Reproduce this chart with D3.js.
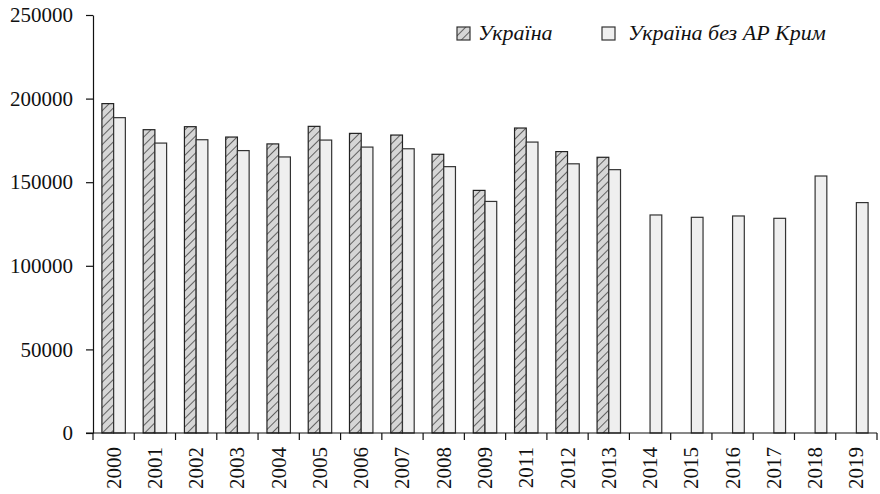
<!DOCTYPE html>
<html>
<head>
<meta charset="utf-8">
<script src="https://cdn.jsdelivr.net/npm/d3@7"></script>
<style>
  html, body { margin: 0; padding: 0; background: #fff; }
  svg { display: block; }
</style>
</head>
<body>
<svg id="chart" width="880" height="494" font-family="Liberation Serif"></svg>
<script>
// Years on the category axis (2010 is absent in the source table)
const years = ["2000","2001","2002","2003","2004","2005","2006","2007","2008","2009",
               "2011","2012","2013","2014","2015","2016","2017","2018","2019"];

// Україна — whole country (no data from 2014 on)
const ukraine = [197000,181400,183200,177000,172900,183400,179200,178200,166700,145100,
                 182400,168300,164900,null,null,null,null,null,null];

// Україна без АР Крим
const ukraineNoCrimea = [188600,173400,175400,168900,165100,175200,171000,170000,159300,138500,
                         174000,161000,157500,130400,129000,129800,128400,153700,137800];

const yTicks = [0,50000,100000,150000,200000,250000];

const seriesNames = ["Україна", "Україна без АР Крим"];

const FONT = "Liberation Serif";
const svg = d3.select("#chart");
const plotLeft = 93, plotRight = 877, plotTop = 15, plotBottom = 433;

const defs = svg.append("defs");
const hatch = defs.append("pattern")
  .attr("id", "hatch")
  .attr("patternUnits", "userSpaceOnUse")
  .attr("width", 6).attr("height", 6)
  .attr("patternTransform", "rotate(45)");
hatch.append("rect").attr("width", 6).attr("height", 6).attr("fill", "#d6d6d6");
hatch.append("line").attr("x1", 0).attr("y1", 0).attr("x2", 0).attr("y2", 6)
  .attr("stroke", "#111").attr("stroke-width", 1.2);

const x = d3.scaleBand().domain(years).range([plotLeft, plotRight]).padding(0);
const x1 = d3.scaleBand().domain(["a","b"]).range([0, x.bandwidth()])
  .paddingInner(0).paddingOuter(0.76);
const y = d3.scaleLinear().domain([0, 250000]).range([plotBottom, plotTop]);

// Bars
const g = svg.append("g");
years.forEach((yr, i) => {
  if (ukraine[i] != null) {
    g.append("rect")
      .attr("x", x(yr) + x1("a"))
      .attr("y", y(ukraine[i]))
      .attr("width", x1.bandwidth())
      .attr("height", y(0) - y(ukraine[i]))
      .attr("fill", "url(#hatch)")
      .attr("stroke", "#222").attr("stroke-width", 1.2);
  }
  if (ukraineNoCrimea[i] != null) {
    g.append("rect")
      .attr("x", x(yr) + x1("b"))
      .attr("y", y(ukraineNoCrimea[i]))
      .attr("width", x1.bandwidth())
      .attr("height", y(0) - y(ukraineNoCrimea[i]))
      .attr("fill", "#efefef")
      .attr("stroke", "#333").attr("stroke-width", 1.2);
  }
});

// Y axis
const yAxis = svg.append("g")
  .attr("transform", `translate(${plotLeft},0)`)
  .call(d3.axisLeft(y).tickValues(yTicks).tickFormat(d3.format("d")).tickSize(7).tickPadding(13).tickSizeOuter(0));
yAxis.attr("font-family", FONT).attr("font-size", 21);
yAxis.select(".domain").attr("stroke", "#111").attr("stroke-width", 1.2);
yAxis.selectAll(".tick line").attr("stroke", "#111").attr("stroke-width", 1.2);
yAxis.selectAll("text")
  .attr("font-family", FONT).attr("font-size", 21).attr("fill", "#111");

// X axis: ticks at category boundaries
const xAxisG = svg.append("g").attr("transform", `translate(0,${plotBottom})`);
xAxisG.append("line").attr("x1", plotLeft - 7).attr("x2", plotRight).attr("y1", 0).attr("y2", 0)
  .attr("stroke", "#111").attr("stroke-width", 1.2);
const bounds = years.map(d => x(d)).concat([plotRight]);
xAxisG.selectAll("line.tk").data(bounds).join("line").attr("class", "tk")
  .attr("x1", d => d).attr("x2", d => d).attr("y1", 0).attr("y2", 7)
  .attr("stroke", "#111").attr("stroke-width", 1.2);
xAxisG.selectAll("text").data(years).join("text")
  .attr("transform", d => `translate(${x(d) + x.bandwidth() / 2 + 7},14) rotate(-90)`)
  .attr("text-anchor", "end")
  .attr("fill", "#111")
  .attr("font-family", FONT).attr("font-size", 21)
  .text(d => d);

// Legend
const legend = svg.append("g");
const legendItems = [
  { name: seriesNames[0], fill: "url(#hatch)", sx: 457, tx: 478 },
  { name: seriesNames[1], fill: "#efefef", sx: 602, tx: 628 }
];
legendItems.forEach(it => {
  legend.append("rect").attr("x", it.sx).attr("y", 27).attr("width", 13).attr("height", 13)
    .attr("fill", it.fill).attr("stroke", "#333").attr("stroke-width", 1.2);
  legend.append("text").attr("x", it.tx).attr("y", 40)
    .attr("fill", "#111")
    .attr("font-family", FONT).attr("font-size", 22).attr("font-style", "italic")
    .text(it.name);
});
</script>
</body>
</html>
